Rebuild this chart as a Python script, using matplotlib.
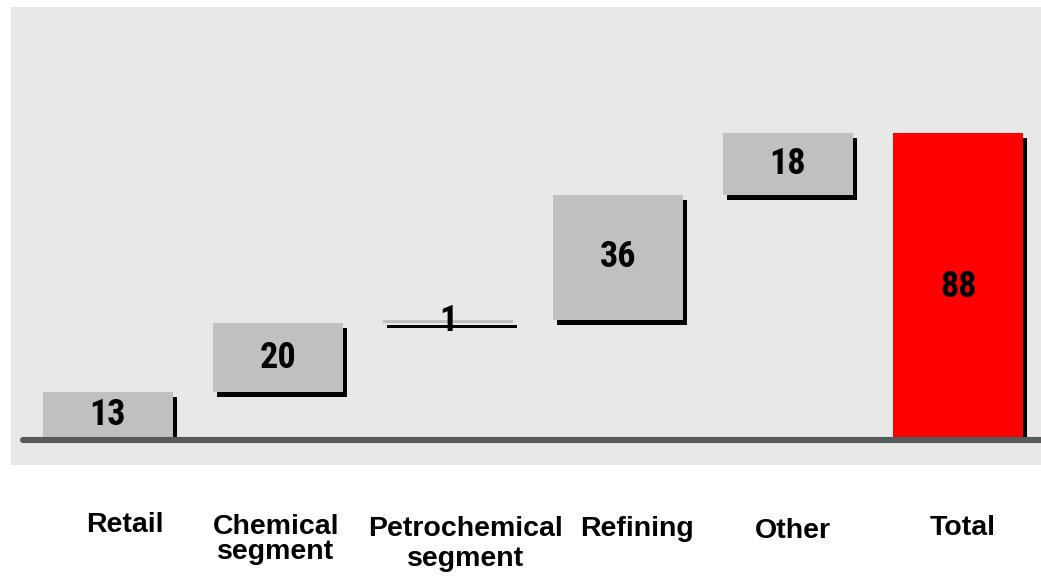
import matplotlib
matplotlib.use("Agg")
import matplotlib.pyplot as plt
from matplotlib import font_manager as fm
from matplotlib.patches import Rectangle
from matplotlib.transforms import blended_transform_factory

# data
categories = ["Retail", "Chemical\nsegment", "Petrochemical\nsegment",
              "Refining", "Other", "Total"]
values = [13, 20, 1, 36, 18, 88]
is_total = [False, False, False, False, False, True]

# fonts: narrow bold for numbers (Arial Narrow look-alike), Arial-like for labels
names = {f.name for f in fm.fontManager.ttflist}
num_font = next((n for n in ["Liberation Sans Narrow", "Arial Narrow", "Roboto Condensed",
                             "PT Sans Narrow", "Archivo Narrow", "Barlow Semi Condensed",
                             "Barlow Condensed"] if n in names), "DejaVu Sans")
lab_font = "Liberation Sans" if "Liberation Sans" in names else "DejaVu Sans"

W, H = 1041, 577
fig = plt.figure(figsize=(W / 100, H / 100), dpi=100)
fig.patch.set_facecolor("white")

# axes = grey panel
ax = fig.add_axes([11 / W, 1 - 465 / H, 1 - 11 / W, (465 - 7) / H])
ax.set_facecolor("#e8e8e8")
for s in ax.spines.values():
    s.set_visible(False)
ax.set_xticks([])
ax.set_yticks([])

px_x = 170.0      # pixels per x unit
px_y = 3.4545     # pixels per y unit
ax.set_xlim(-(108 - 11) / px_x, (1041 - 108) / px_x)
ax.set_ylim(-(465 - 437) / px_y, (437 - 7) / px_y)

bar_w = 130 / px_x
sh_dx = 4 / px_x
sh_dy = 5 / px_y

bottom = 0
for i, (v, tot) in enumerate(zip(values, is_total)):
    b = 0 if tot else bottom
    x0 = i - bar_w / 2
    color = "#ff0000" if tot else "#c0c0c0"
    # shadow
    ax.add_patch(Rectangle((x0 + sh_dx, b - sh_dy), bar_w, v, facecolor="black",
                           edgecolor="none", zorder=2))
    ax.add_patch(Rectangle((x0, b), bar_w, v, facecolor=color,
                           edgecolor="none", zorder=3))
    ty = b + v / 2 - (2 / px_y if tot else 0)
    ax.text(i, ty, str(v), ha="center", va="center", fontsize=26,
            fontweight="bold", family=num_font, color="black", zorder=5)
    if not tot:
        bottom += v

# baseline
ax.plot([(23 - 108) / px_x, (1045 - 108) / px_x], [-3 / px_y, -3 / px_y],
        color="#555a5c", lw=4.4, solid_capstyle="round", zorder=4, clip_on=False)

# category labels
lab_dx = [17, -2, 18, 19, 5, 5]
lab_top = [512, 514, 516, 516, 518, 515]
lab_ls = [1.0, 0.95, 1.2, 1.0, 1.0, 1.0]
trans = blended_transform_factory(ax.transData, fig.transFigure)
for i, lab in enumerate(categories):
    ax.text(i + lab_dx[i] / px_x, 1 - lab_top[i] / H, lab, transform=trans,
            ha="center", va="top", fontsize=20.5, fontweight="bold",
            family=lab_font, linespacing=lab_ls[i], clip_on=False)

fig.savefig("out.png", dpi=100)
